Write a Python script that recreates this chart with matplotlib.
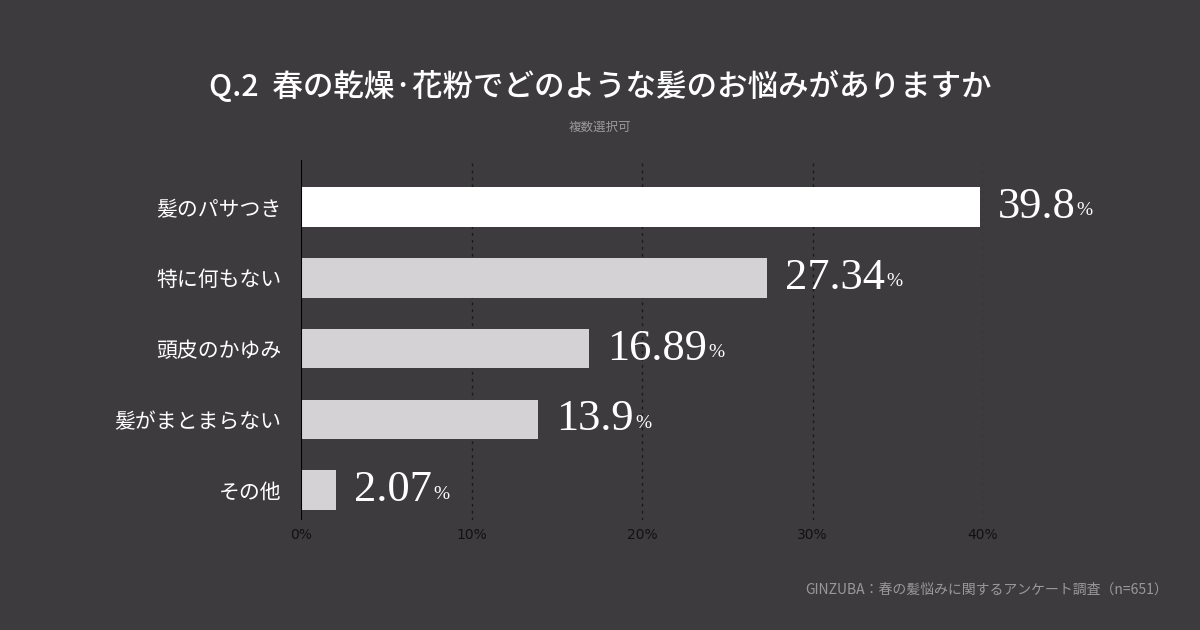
import matplotlib
matplotlib.use("Agg")
import matplotlib.pyplot as plt

categories = ["髪のパサつき", "特に何もない", "頭皮のかゆみ", "髪がまとまらない", "その他"]
values = [39.8, 27.34, 16.89, 13.9, 2.07]
value_labels = ["39.8", "27.34", "16.89", "13.9", "2.07"]
ticks = [0, 10, 20, 30, 40]
tick_labels = ["0%", "10%", "20%", "30%", "40%"]

BG = "#3d3b3e"
JP = "Noto Sans CJK JP"
fig = plt.figure(figsize=(12, 6.3), dpi=100, facecolor=BG)
ax = fig.add_axes([301/1200, 1-520/630, (983-301)/1200, 360/630])
ax.set_facecolor(BG)
ax.set_xlim(0, 40)
ax.set_ylim(4.42, -0.664)

colors = ["#ffffff"] + ["#d4d2d5"] * 4
ax.barh(range(len(values)), values, height=0.56, color=colors, clip_on=False, zorder=3)
for x in ticks[1:]:
    ax.axvline(x, color="#1a1a1a", lw=1, ls=(0, (2, 3)), zorder=1)
ax.axvline(0, color="#000000", lw=1.5, zorder=4)

for i, (v, lab) in enumerate(zip(values, value_labels)):
    t = ax.annotate(lab, (v, i), xytext=(13, 0), textcoords="offset points",
                    fontsize=32, color="white", family="Liberation Serif",
                    va="center", ha="left", annotation_clip=False)
    fig.canvas.draw()
    bb = t.get_window_extent()
    fig.text(bb.x1 / 1200 + 0.001, bb.y0 / 630 + 0.012, "%", fontsize=14,
             color="white", family="Liberation Serif", va="bottom", ha="left")

ax.set_yticks(range(len(categories)))
ax.set_yticklabels(categories, fontsize=15, color="white", family=JP)
ax.set_xticks(ticks)
ax.set_xticklabels(tick_labels, fontsize=10, color="#111111", family="DejaVu Sans")
ax.tick_params(length=0, pad=14, axis="y")
ax.tick_params(length=0, pad=6, axis="x")
for s in ax.spines.values():
    s.set_visible(False)

fig.text(0.5, 1-87/630, "Q.2  春の乾燥·花粉でどのような髪のお悩みがありますか", fontsize=22,
         color="white", family=JP, ha="center", va="center", weight="medium")
fig.text(0.5, 1-127/630, "複数選択可", fontsize=9, color="#9a989b", family=JP, ha="center", va="center")
fig.text(1168/1200, 1-590/630, "GINZUBA：春の髪悩みに関するアンケート調査（n=651）", fontsize=10,
         color="#9a989b", family=JP, ha="right", va="center")

fig.savefig("out.png", facecolor=BG)
